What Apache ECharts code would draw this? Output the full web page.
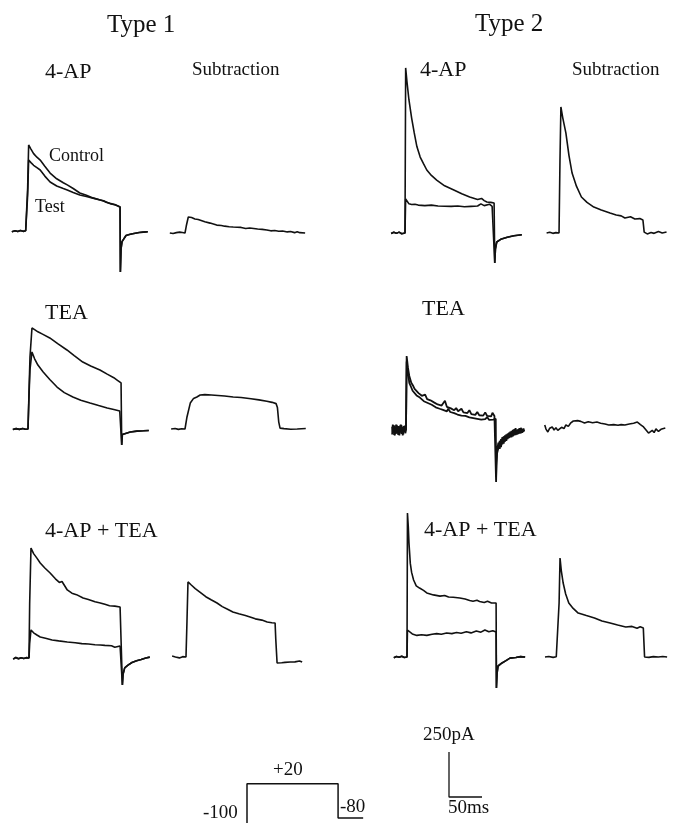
<!DOCTYPE html>
<html>
<head>
<meta charset="utf-8">
<script src="https://cdn.jsdelivr.net/npm/echarts@6/dist/echarts.min.js"></script>
<style>
  html, body { margin: 0; background: #fff; }
  #chart { width: 674px; height: 823px; }
</style>
</head>
<body>
<div id="chart"></div>
<script>
// time in ms, current in pA, voltage in mV
// Type 1, 4-AP
var t1ApPre = [[-23,-4],[-18,2],[-14,-3],[-10,3],[-6,-2],[-2,1],[0,0]];
var t1ApControl = [[1,240],[2.5,478],[6,455],[10,430],[15,410],[20,394],[27,360],[35,322],[45,290],[55,268],[61,256],[70,236],[80,211],[90,198],[100,184],[111,172],[116,168],[120,160],[127,152],[133,147],[137,141],[141,133]];
var t1ApTest = [[1,200],[2.5,394],[6,380],[10,365],[15,352],[20,339],[27,305],[35,272],[45,250],[55,236],[61,228],[70,214],[80,200],[90,192],[100,182],[111,172],[118,164],[122,158],[128,150],[134,144],[141,133]];
var t1ApTail = [[141.5,-228],[142.5,-100],[144,-59],[150,-25],[155,-20],[160,-15],[170,-8],[176,-6],[183,-4]];
var t1ApSub = [[-23,0],[-18,-3],[-13,2],[-8,5],[-4,3],[0,0],[2,40],[5,89],[10,86],[15,78],[20,75],[23,72],[30,62],[38,55],[48,44],[55,42],[60,38],[67,35],[73,33],[85,31],[92,25],[98,28],[110,22],[117,20],[124,17],[130,12],[136,14],[142,10],[148,11],[155,6],[160,8],[166,2],[170,7],[174,2],[182,0]];

// Type 2, 4-AP
var t2ApPre = [[-21,-3],[-17,4],[-13,-2],[-9,5],[-5,-4],[-2,2],[0,0]];
var t2ApControl = [[1,917],[3,840],[6,739],[10,640],[14,556],[18,480],[23,422],[28,385],[33,350],[40,320],[48,294],[60,262],[74,239],[86,218],[98,200],[110,186],[116,192],[120,180],[124,172],[130,170],[135,167]];
var t2ApTest = [[1,189],[3,178],[6,162],[10,158],[15,160],[20,155],[30,152],[40,155],[50,150],[60,149],[70,148],[80,150],[90,146],[100,148],[110,150],[115,162],[120,152],[128,160],[132,148],[135,150]];
var t2ApTail = [[136,-167],[137,-90],[139,-50],[145,-35],[155,-24],[165,-15],[177,-10]];
var t2ApSub = [[-20,0],[-15,4],[-10,-2],[-5,2],[0,0],[1.5,400],[3,700],[6,640],[11,556],[16,430],[21,333],[28,260],[36,200],[45,170],[56,144],[68,128],[82,111],[92,100],[100,95],[106,83],[115,90],[122,78],[130,80],[135,72],[136,40],[137,5],[142,-5],[148,3],[153,-2],[160,8],[166,0],[173,6]];

// Type 1, TEA
var t1TeaPre = [[-23,-3],[-18,2],[-13,-2],[-8,3],[-4,-1],[0,0]];
var t1TeaControl = [[1.5,200],[3,400],[6,561],[10,552],[15,540],[22,527],[33,506],[45,474],[59,439],[70,408],[83,372],[95,350],[109,328],[120,305],[130,285],[135,272],[141,256]];
var t1TeaTest = [[1.5,180],[3,330],[6,428],[10,390],[15,355],[23,317],[33,275],[44,233],[55,202],[68,178],[80,160],[94,144],[107,130],[120,117],[130,108],[139,100],[141,98]];
var t1TeaTail = [[142,-89],[143,-30],[146,-20],[155,-17],[165,-12],[175,-10],[183,-8]];
var t1TeaSub = [[-21,0],[-15,3],[-10,-2],[-5,1],[0,0],[3,67],[8,144],[13,170],[18,178],[23,189],[30,191],[40,189],[50,186],[60,183],[73,178],[85,175],[100,168],[112,162],[124,154],[132,148],[138,141],[140,120],[142,40],[144,5],[150,2],[160,-1],[170,0],[183,3]];

// Type 2, TEA (noisy records, two overlapping sweeps)
var t2TeaPreA = [[-21,-25],[-20,30],[-19,-15],[-18,25],[-17,-30],[-16,15],[-15,-20],[-14,28],[-13,-10],[-12,22],[-11,-28],[-10,18],[-9,-15],[-8,30],[-7,-22],[-6,12],[-5,-30],[-4,20],[-3,-12],[-2,25],[-1,-18],[0,0]];
var t2TeaPreB = [[-21,18],[-20,-12],[-19,26],[-18,-28],[-17,10],[-16,-22],[-15,30],[-14,-14],[-13,20],[-12,-26],[-11,12],[-10,-30],[-9,24],[-8,-8],[-7,28],[-6,-20],[-5,16],[-4,-25],[-3,22],[-2,-10],[-1,14],[0,0]];
var t2TeaA = [[1,411],[3,345],[5,300],[8,262],[11,244],[13,228],[16,222],[19,205],[21,210],[24,190],[27,186],[29,196],[32,172],[35,180],[37,165],[40,170],[43,152],[46,160],[48,142],[51,152],[54,136],[57,140],[59,162],[62,128],[65,134],[68,120],[70,126],[73,110],[76,122],[79,104],[82,112],[84,118],[87,98],[90,104],[93,94],[96,110],[99,88],[102,96],[105,84],[108,100],[111,82],[114,88],[117,80],[120,98],[123,78],[126,86],[129,76],[131,96],[134,78],[136,86]];
var t2TeaB = [[1,380],[3,320],[5,262],[8,236],[10,218],[13,210],[16,192],[18,198],[21,180],[24,176],[27,160],[30,166],[33,150],[36,156],[39,140],[42,144],[45,126],[48,134],[51,118],[53,124],[56,112],[59,114],[62,104],[64,118],[67,100],[70,104],[73,94],[76,98],[78,86],[81,96],[84,80],[87,88],[90,78],[93,84],[96,70],[99,80],[102,66],[105,74],[108,62],[111,72],[114,58],[117,68],[120,60],[123,72],[126,56],[129,66],[132,58],[134,68],[136,62]];
var t2TeaTailA = [[136.5,-289],[137,-200],[138,-130],[140,-100],[142,-60],[144,-95],[146,-40],[148,-75],[150,-30],[152,-60],[154,-20],[156,-45],[158,-10],[160,-40],[162,0],[164,-30],[166,10],[168,-25],[170,5],[172,-20],[174,12],[176,-15],[178,8],[179,-5]];
var t2TeaTailB = [[136.5,-260],[137,-180],[138,-111],[140,-70],[142,-105],[144,-50],[146,-80],[148,-35],[150,-65],[152,-25],[154,-50],[156,-15],[158,-40],[160,-5],[162,-35],[164,5],[166,-28],[168,0],[170,-22],[172,10],[174,-18],[176,5],[178,-10],[179,0]];
var t2TeaSub = [[-23,28],[-21,5],[-18,-11],[-15,10],[-11,17],[-8,0],[-5,12],[-2,-2],[0,0],[4,15],[8,8],[11,28],[15,20],[19,40],[23,50],[26,61],[30,52],[35,48],[41,39],[47,46],[54,40],[61,44],[67,38],[74,33],[80,28],[88,30],[95,26],[100,30],[106,28],[113,33],[120,38],[126,44],[131,30],[136,17],[140,0],[144,-17],[147,-10],[150,-2],[153,-14],[156,6],[160,-8],[164,4],[167,-6],[171,11]];

// Type 1, 4-AP + TEA
var t1BothPre = [[-24,-6],[-20,3],[-16,-4],[-12,2],[-8,-3],[-4,2],[0,0]];
var t1BothControl = [[1,300],[3,611],[7,580],[12,555],[17,528],[24,500],[32,472],[40,440],[46,420],[50,425],[58,378],[65,360],[72,352],[82,333],[90,325],[100,312],[108,306],[115,298],[122,290],[130,288],[138,283],[141,280]];
var t1BothTest = [[1,80],[3,156],[7,140],[12,128],[17,117],[25,110],[35,100],[45,95],[58,89],[70,85],[80,80],[90,78],[100,74],[108,72],[115,70],[125,68],[130,60],[138,67],[141,66]];
var t1BothTail = [[141.5,-150],[142.5,-90],[145,-55],[150,-40],[156,-25],[163,-15],[170,-8],[177,0],[183,5]];
var t1BothSub = [[-21,5],[-16,0],[-10,-5],[-5,2],[0,0],[1.5,200],[3,417],[8,400],[14,380],[21,361],[30,335],[38,318],[47,300],[55,280],[63,265],[71,250],[80,240],[90,230],[97,222],[105,212],[115,205],[123,194],[130,190],[135,189],[136,100],[138,-33],[145,-32],[150,-30],[158,-28],[165,-27],[172,-22],[176,-28]];

// Type 2, 4-AP + TEA
var t2BothPre = [[-20,-4],[-16,3],[-12,-2],[-8,4],[-4,-3],[0,0]];
var t2BothControl = [[0.7,800],[2,720],[3,633],[5,520],[7,470],[10,428],[14,395],[19,383],[25,370],[30,356],[40,345],[50,338],[57,342],[63,333],[70,332],[80,328],[88,322],[95,314],[100,310],[106,315],[110,308],[117,303],[122,310],[128,300],[135,300]];
var t2BothTest = [[0.7,150],[3,140],[8,128],[15,120],[22,124],[30,120],[38,126],[45,130],[52,126],[60,133],[68,130],[75,136],[82,132],[90,140],[97,134],[105,145],[112,138],[118,150],[124,140],[130,146],[135,139]];
var t2BothTail = [[135.5,-172],[136.5,-90],[138,-50],[144,-33],[150,-20],[156,-6],[165,-3],[172,2],[179,0]];
var t2BothSub = [[-21,0],[-15,3],[-8,-2],[-3,1],[0,0],[1.5,300],[3,550],[5,480],[8,411],[12,350],[17,300],[24,270],[32,244],[45,230],[58,217],[70,200],[83,189],[95,178],[108,167],[118,170],[126,160],[131,168],[136,161],[137,80],[138,0],[145,-2],[152,2],[160,0],[167,3],[174,0]];

// voltage protocol and scale bar
var protocol = [[-30,-100],[0,-100],[0,20],[138,20],[138,-80],[176,-80]];
var scaleBar = [[0,250],[0,0],[50,0]];

var labels = [
  ['Type 1', 107, 25.5, 25], ['Type 2', 475, 24.5, 25],
  ['4-AP', 45, 72.5, 22], ['Subtraction', 192, 70.5, 19],
  ['4-AP', 420, 70.5, 22], ['Subtraction', 572, 70.5, 19],
  ['Control', 49, 156, 18], ['Test', 35, 207, 18],
  ['TEA', 45, 313.5, 22], ['TEA', 422, 309.5, 22],
  ['4-AP + TEA', 45, 531.5, 22], ['4-AP + TEA', 424, 530.5, 22],
  ['+20', 273, 770.5, 19], ['-100', 203, 813.5, 19], ['-80', 340, 807.5, 19],
  ['250pA', 423, 735.5, 19], ['50ms', 448, 808.5, 19]
];

// px per unit, shared by every panel
var PX_MS = 0.66, PX_PA = 0.18, PX_MV = 0.35;

var grids = [], xAxes = [], yAxes = [], series = [];

function addGrid(x0, y0, xmin, xmax, ymin, ymax, sx, sy) {
  // x0,y0 = pixel where (0,0) lands
  var i = grids.length;
  grids.push({left: x0 + xmin * sx, top: y0 - ymax * sy,
    width: (xmax - xmin) * sx, height: (ymax - ymin) * sy});
  xAxes.push({type: 'value', gridIndex: i, min: xmin, max: xmax, show: false});
  yAxes.push({type: 'value', gridIndex: i, min: ymin, max: ymax, show: false});
  return i;
}

function addLine(i, data, w) {
  series.push({type: 'line', xAxisIndex: i, yAxisIndex: i, data: data,
    showSymbol: false, symbol: 'none', silent: true, animation: false,
    lineStyle: {color: '#111', width: w || 1.6}});
}

function panel(x0, y0, traces, w) {
  var i = addGrid(x0, y0, -25, 185, -350, 1000, PX_MS, PX_PA);
  traces.forEach(function (tr) { addLine(i, tr, w); });
}

panel(27, 231, [t1ApPre.concat(t1ApControl, t1ApTail), t1ApPre.concat(t1ApTest, t1ApTail)]);
panel(185, 233, [t1ApSub]);
panel(405, 233, [t2ApPre.concat(t2ApControl, t2ApTail), t2ApPre.concat(t2ApTest, t2ApTail)]);
panel(560, 233, [t2ApSub]);

panel(28, 429, [t1TeaPre.concat(t1TeaControl, t1TeaTail), t1TeaPre.concat(t1TeaTest, t1TeaTail)]);
panel(185, 429, [t1TeaSub]);
panel(406, 430, [t2TeaPreA.concat(t2TeaA, t2TeaTailA), t2TeaPreB.concat(t2TeaB, t2TeaTailB)], 1.8);
panel(560, 430, [t2TeaSub]);

panel(29, 658, [t1BothPre.concat(t1BothControl, t1BothTail), t1BothPre.concat(t1BothTest, t1BothTail)]);
panel(186, 657, [t1BothSub]);
panel(407, 657, [t2BothPre.concat(t2BothControl, t2BothTail), t2BothPre.concat(t2BothTest, t2BothTail)]);
panel(559, 657, [t2BothSub]);

// protocol grid is cut at -95 mV so the holding level runs off the page as in the figure
var gp = addGrid(247, 791, -30, 180, -95, 40, PX_MS, PX_MV);
addLine(gp, protocol, 1.5);
var gs = addGrid(449, 797, -10, 60, -50, 300, PX_MS, PX_PA);
addLine(gs, scaleBar, 1.3);

var chart = echarts.init(document.getElementById('chart'), null, {renderer: 'canvas'});
chart.setOption({
  backgroundColor: '#fff',
  animation: false,
  grid: grids,
  xAxis: xAxes,
  yAxis: yAxes,
  series: series,
  graphic: labels.map(function (l) {
    return {type: 'text', x: l[1], y: l[2], silent: true,
      style: {text: l[0], fill: '#111', align: 'left', verticalAlign: 'middle',
        font: l[3] + 'px "Liberation Serif", "Times New Roman", serif'}};
  })
});
</script>
</body>
</html>
